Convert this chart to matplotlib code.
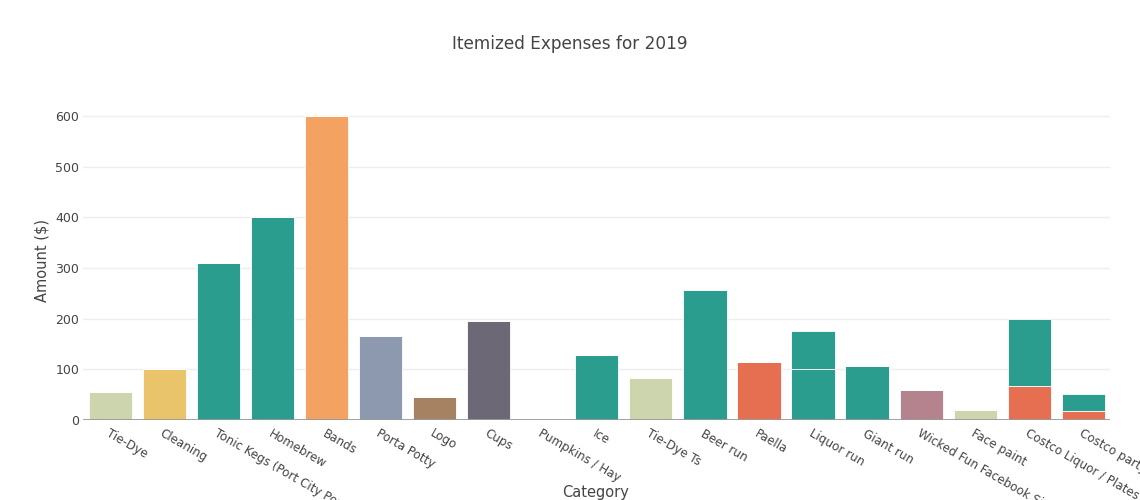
import matplotlib
matplotlib.use("Agg")
import matplotlib.pyplot as plt

plt.rcParams['font.family'] = ['DejaVu Sans']

categories = ["Tie-Dye", "Cleaning", "Tonic Kegs (Port City Pops)", "Homebrew", "Bands",
              "Porta Potty", "Logo", "Cups", "Pumpkins / Hay", "Ice", "Tie-Dye Ts",
              "Beer run", "Paella", "Liquor run", "Giant run", "Wicked Fun Facebook Signs",
              "Face paint", "Costco Liquor / Plates / Cups", "Costco party supplies"]

# bottom segment of each bar
amount_base = [55, 100, 310, 400, 600, 165, 45, 195, 0, 128, 82, 256, 114, 100, 107, 60, 20, 67, 17]
color_base = ["#cdd5ae", "#e9c46a", "#2a9d8f", "#2a9d8f", "#f4a261", "#8d99ae", "#a68263",
              "#6d6875", "#2a9d8f", "#2a9d8f", "#cdd5ae", "#2a9d8f", "#e76f51", "#2a9d8f",
              "#2a9d8f", "#b5838d", "#cdd5ae", "#e76f51", "#e76f51"]

# stacked segment on top (only a few bars have one)
amount_top = [0, 0, 0, 0, 0, 0, 0, 0, 0, 0, 0, 0, 0, 75, 0, 0, 0, 133, 35]
color_top = "#2a9d8f"

fig = plt.figure(figsize=(11.4, 5), dpi=100)
ax = fig.add_axes([0.073, 0.16, 0.901, 0.64])

x = range(len(categories))
ax.bar(x, amount_base, width=0.8, color=color_base, edgecolor="white", linewidth=0.6, zorder=3)
ax.bar(x, amount_top, width=0.8, bottom=amount_base, color=color_top,
       edgecolor="white", linewidth=0.6, zorder=3)

ax.set_xlim(-0.5, len(categories) - 0.5)
ax.set_ylim(0, 631.6)
ax.set_yticks(range(0, 601, 100))
ax.yaxis.grid(True, color="#eeeeee", linewidth=1, zorder=0)
ax.axhline(0, color="#999999", linewidth=2, zorder=4)

for s in ax.spines.values():
    s.set_visible(False)
ax.tick_params(axis="both", length=0, labelsize=9, labelcolor="#444444")
ax.tick_params(axis="y", pad=3)
ax.set_xticks(list(x))
ax.set_xticklabels(categories, rotation=-30, ha="left", va="top", rotation_mode="anchor",
                   fontsize=8.6)
ax.tick_params(axis="x", pad=5)

fig.text(0.522, 0.016, "Category", ha="center", va="center", fontsize=10.5, color="#444444")
fig.text(0.037, 0.48, "Amount ($)", ha="center", va="center", rotation=90,
         fontsize=10.5, color="#444444")
fig.text(0.5, 0.912, "Itemized Expenses for 2019", ha="center", va="center",
         fontsize=12.2, color="#444444")

fig.savefig("out.png", dpi=100)
